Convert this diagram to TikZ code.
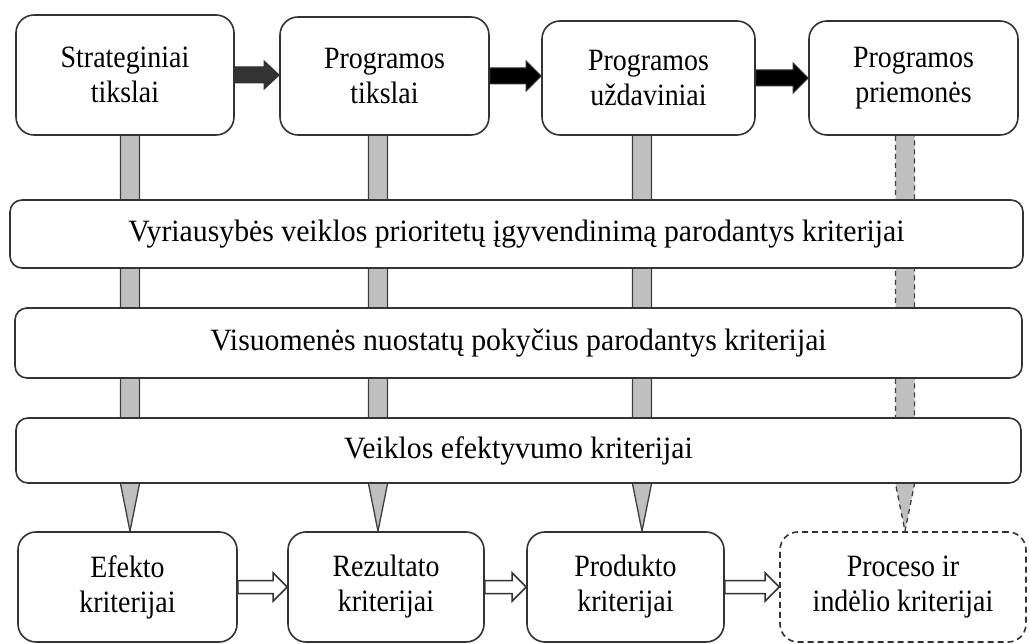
\documentclass[tikz,border=0pt]{standalone}
\usepackage{fontspec}
\setmainfont{Liberation Serif}[FakeStretch=0.9]
\newfontfamily\widefont{Liberation Serif}[FakeStretch=0.96]
\usetikzlibrary{calc}
\pgfdeclarelayer{background}
\pgfsetlayers{background,main}
\definecolor{boxline}{HTML}{333333}
\definecolor{barline}{HTML}{404040}
\definecolor{barfill}{HTML}{C0C0C0}
\definecolor{darkarrow}{HTML}{333333}
\newcommand\blkarrow[6]{%
  \path[#1] let \p1=(#2.east), \p2=(#3.west) in
    (\x1,\y1+#4) -- (\x2-#6,\y1+#4) -- (\x2-#6,\y1+#5) -- (\x2,\y1)
    -- (\x2-#6,\y1-#5) -- (\x2-#6,\y1-#4) -- (\x1,\y1-#4) -- cycle;}
\newcommand\barconn[4]{% #1 style, #2 top node, #3 bottom node, #4 x coordinate
  \draw[#1] let \p1=(#2.south -| #4), \p2=(w3.south -| #4), \p3=(#3.north -| #4) in
    (\x1-9.5pt,\y1) -- (\x2-9.5pt,\y2) -- (\x3,\y3) -- (\x2+9.5pt,\y2) -- (\x1+9.5pt,\y1);}
\tikzset{
  txt/.style={font=\fontsize{31pt}{35pt}\selectfont},
  box/.style={txt, draw=boxline, line width=1.6pt, rounded corners=18pt, fill=white,
    align=center, inner sep=0pt},
  widebox/.style={font=\widefont\fontsize{31pt}{35pt}\selectfont, draw=boxline,
    line width=1.6pt, rounded corners=12pt, fill=white, inner sep=0pt},
  dashbox/.style={box, dash pattern=on 6pt off 4pt},
  barsolid/.style={draw=barline, line width=1.3pt, fill=barfill},
  bardash/.style={barsolid, dash pattern=on 5pt off 4pt},
  toparrow/.style={draw=boxline, line width=1pt, fill=#1},
  hollowarrow/.style={draw=boxline, line width=1.5pt, fill=white},
}
\begin{document}
\begin{tikzpicture}[x=1pt,y=-1pt]
\useasboundingbox (0,0) rectangle (1029,644);
% top row
\node[box, minimum width=218pt, minimum height=120pt] (b1) at (125,75) {Strateginiai\\tikslai};
\node[box, minimum width=209pt, minimum height=118pt] (b2) at (384.5,76) {Programos\\tikslai};
\node[box, minimum width=213pt, minimum height=114pt] (b3) at (648.5,78) {Programos\\uždaviniai};
\node[box, minimum width=209pt, minimum height=114pt] (b4) at (913.5,78) {Programos\\priemonės};
% wide boxes
\node[widebox, minimum width=1013pt, minimum height=68pt] (w1) at (516.5,234)
  {Vyriausybės veiklos prioritetų įgyvendinimą parodantys kriterijai};
\node[widebox, minimum width=1007pt, minimum height=70pt] (w2) at (518.5,343)
  {Visuomenės nuostatų pokyčius parodantys kriterijai};
\node[widebox, minimum width=1005pt, minimum height=65pt] (w3) at (518.5,450.5)
  {Veiklos efektyvumo kriterijai};
% bottom row
\node[box, minimum width=219pt, minimum height=110pt] (e) at (127.5,587) {Efekto\\kriterijai};
\node[box, minimum width=196pt, minimum height=110pt] (r) at (386,587) {Rezultato\\kriterijai};
\node[box, minimum width=197pt, minimum height=110pt] (p) at (625.5,587) {Produkto\\kriterijai};
\node[dashbox, minimum width=246pt, minimum height=110pt] (pr) at (903,587) {Proceso ir\\indėlio kriterijai};
% column positions
\coordinate (x1) at (130,0);
\coordinate (x2) at (378,0);
\coordinate (x3) at (642,0);
\coordinate (x4) at (905,0);
\begin{pgfonlayer}{background}
\barconn{barsolid}{b1}{e}{x1}
\barconn{barsolid}{b2}{r}{x2}
\barconn{barsolid}{b3}{p}{x3}
\barconn{bardash}{b4}{pr}{x4}
\end{pgfonlayer}
% top arrows
\blkarrow{toparrow=darkarrow}{b1}{b2}{8pt}{14pt}{15pt}
\blkarrow{toparrow=black}{b2}{b3}{8pt}{15pt}{15pt}
\blkarrow{toparrow=black}{b3}{b4}{8pt}{15pt}{15pt}
% bottom arrows
\blkarrow{hollowarrow}{e}{r}{6.5pt}{14pt}{14pt}
\blkarrow{hollowarrow}{r}{p}{6.5pt}{14pt}{14pt}
\blkarrow{hollowarrow}{p}{pr}{6.5pt}{14pt}{14pt}
\end{tikzpicture}
\end{document}
